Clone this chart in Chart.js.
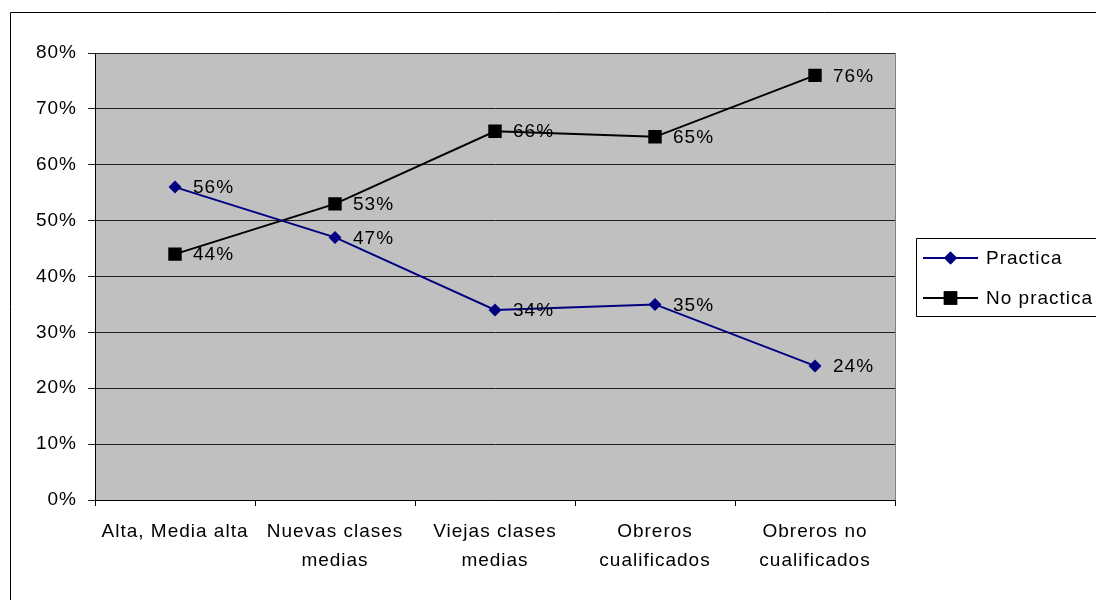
<!DOCTYPE html>
<html>
<head>
<meta charset="utf-8">
<script src="https://cdn.jsdelivr.net/npm/chart.js@4/dist/chart.umd.min.js"></script>
<style>
html,body{margin:0;padding:0;background:#fff;}
#wrap{width:1096px;height:600px;position:relative;}
</style>
</head>
<body>
<div id="wrap"><canvas id="c" width="1096" height="600"></canvas></div>
<script>
const categories = [
  "Alta, Media alta",
  ["Nuevas clases", "medias"],
  ["Viejas clases", "medias"],
  ["Obreros", "cualificados"],
  ["Obreros no", "cualificados"]
];
const practica = [56, 47, 34, 35, 24];
const noPractica = [44, 53, 66, 65, 76];
const seriesNames = ["Practica", "No practica"];
const yTicks = [0, 10, 20, 30, 40, 50, 60, 70, 80];

const FONT = "'Liberation Sans', Arial, sans-serif";
const LS = '1px';

const setSpacing = {
  id: 'spacing',
  beforeUpdate(chart) { chart.ctx.letterSpacing = LS; },
  beforeLayout(chart) { chart.ctx.letterSpacing = LS; },
  beforeDraw(chart) { chart.ctx.letterSpacing = LS; }
};

const background = {
  id: 'bg',
  beforeDraw(chart) {
    const ctx = chart.ctx, a = chart.chartArea;
    ctx.save();
    ctx.fillStyle = '#fff';
    ctx.fillRect(0, 0, chart.width, chart.height);
    ctx.strokeStyle = '#000';
    ctx.lineWidth = 1;
    ctx.beginPath();
    ctx.moveTo(10.5, chart.height);
    ctx.lineTo(10.5, 12.5);
    ctx.lineTo(chart.width, 12.5);
    ctx.stroke();
    ctx.fillStyle = '#C0C0C0';
    ctx.fillRect(a.left, a.top, a.right - a.left, a.bottom - a.top);
    ctx.strokeStyle = '#808080';
    ctx.strokeRect(a.left + 0.5, a.top + 0.5, a.right - a.left, a.bottom - a.top);
    ctx.restore();
  }
};

const dataLabels = {
  id: 'dl',
  afterDatasetsDraw(chart) {
    const ctx = chart.ctx;
    ctx.save();
    ctx.letterSpacing = LS;
    ctx.font = '19px ' + FONT;
    ctx.fillStyle = '#000';
    ctx.textAlign = 'left';
    ctx.textBaseline = 'middle';
    chart.data.datasets.forEach((ds, i) => {
      const meta = chart.getDatasetMeta(i);
      meta.data.forEach((pt, j) => {
        ctx.fillText(ds.data[j] + '%', pt.x + 18, pt.y + 1);
      });
    });
    ctx.restore();
  }
};

const legendBox = {
  id: 'legendBox',
  afterDraw(chart) {
    const ctx = chart.ctx;
    ctx.save();
    ctx.letterSpacing = LS;
    ctx.strokeStyle = '#000';
    ctx.lineWidth = 1;
    ctx.beginPath();
    ctx.moveTo(chart.width, 238.5);
    ctx.lineTo(916.5, 238.5);
    ctx.lineTo(916.5, 316.5);
    ctx.lineTo(chart.width, 316.5);
    ctx.stroke();
    const rows = [
      {y: 258, color: '#000080', style: 'rectRot', r: 6.5},
      {y: 298, color: '#000000', style: 'rect', r: 9.5}
    ];
    rows.forEach((row, i) => {
      ctx.strokeStyle = row.color;
      ctx.lineWidth = 2;
      ctx.beginPath();
      ctx.moveTo(923, row.y);
      ctx.lineTo(978, row.y);
      ctx.stroke();
      ctx.fillStyle = row.color;
      Chart.helpers.drawPoint(ctx, {pointStyle: row.style, radius: row.r, borderWidth: 0}, 950.5, row.y);
      ctx.fill();
      ctx.fillStyle = '#000';
      ctx.font = '19px ' + FONT;
      ctx.textAlign = 'left';
      ctx.textBaseline = 'middle';
      ctx.fillText(seriesNames[i], 986, row.y + 1);
    });
    ctx.restore();
  }
};

Chart.defaults.font.family = FONT;
Chart.defaults.font.size = 19;
Chart.defaults.color = '#000';

new Chart(document.getElementById('c'), {
  type: 'line',
  data: {
    labels: categories,
    datasets: [
      {
        label: seriesNames[0],
        data: practica,
        borderColor: '#000080',
        backgroundColor: '#000080',
        borderWidth: 2,
        pointStyle: 'rectRot',
        pointRadius: 6.5,
        pointBorderWidth: 0,
        tension: 0
      },
      {
        label: seriesNames[1],
        data: noPractica,
        borderColor: '#000000',
        backgroundColor: '#000000',
        borderWidth: 2,
        pointStyle: 'rect',
        pointRadius: 9.5,
        pointBorderWidth: 0,
        tension: 0
      }
    ]
  },
  options: {
    responsive: false,
    animation: false,
    events: [],
    layout: { padding: { left: 0, top: 53, right: 201, bottom: 0 } },
    plugins: { legend: { display: false }, tooltip: { enabled: false } },
    scales: {
      x: {
        type: 'category',
        offset: true,
        grid: {
          offset: true,
          drawOnChartArea: false,
          drawTicks: true,
          tickLength: 6,
          color: '#000'
        },
        border: { display: true, color: '#000', width: 1 },
        ticks: {
          maxRotation: 0,
          autoSkip: false,
          padding: 12,
          font: { size: 19, lineHeight: 1.5 }
        },
        afterFit(s) { s.height = 100; s.paddingLeft = 0; s.paddingRight = 0; }
      },
      y: {
        min: 0,
        max: 80,
        afterBuildTicks(s) { s.ticks = yTicks.map(v => ({ value: v })); },
        grid: {
          color: '#222',
          lineWidth: 1,
          drawTicks: true,
          tickLength: 7
        },
        border: { display: true, color: '#000', width: 1 },
        ticks: {
          padding: 11,
          callback: v => v + '%',
          font: { size: 19 }
        },
        afterFit(s) { s.width = 95; s.paddingTop = 0; s.paddingBottom = 0; }
      }
    }
  },
  plugins: [setSpacing, background, dataLabels, legendBox]
});
</script>
</body>
</html>
